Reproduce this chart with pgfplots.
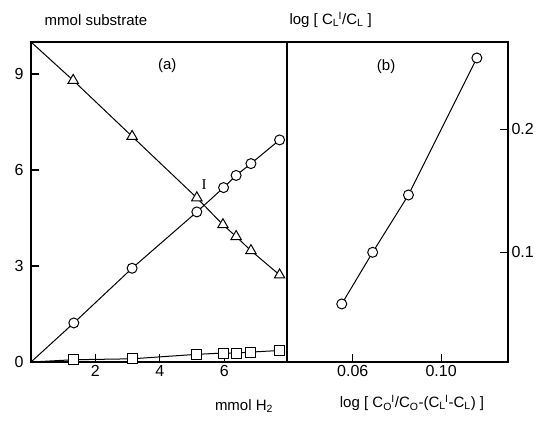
\documentclass[border=0pt]{standalone}
\usepackage{fontspec}
\setmainfont{Liberation Sans}
\newfontfamily\seriffont{Liberation Serif}
\usepackage{pgfplots}
\pgfplotsset{compat=1.18}
% subscript followed by superscript, as in C_L^I
\newcommand{\subsup}[2]{\textsubscript{#2}\kern-0.5pt\textsuperscript{#1}}

\begin{document}
\begin{tikzpicture}[x=1pt,y=1pt,font=\fontsize{15}{18}\selectfont]
\path[use as bounding box] (0,0) rectangle (540,420);
\pgfplotsset{
  every axis/.append style={
    scale only axis, anchor=south west,
    axis line style={line width=1.3pt},
    tick style={line width=1.1pt, black},
    major tick length=8pt, tick align=inside,
    /pgf/number format/assume math mode=true,
    tick label style={font=\fontsize{16}{19}\selectfont},
  },
  dat/.style={black, line width=1pt, mark size=#1, mark options={fill=white, solid, line width=1pt}},
}

% panel (a)
\begin{axis}[at={(31pt,58pt)}, width=256pt, height=320pt,
  xmin=0, xmax=7.95, ymin=0, ymax=10,
  xtick={2,4,6}, ytick={0,3,6,9},
  yticklabel style={xshift=-4pt},
  xtick pos=bottom, ytick pos=left, clip=false]
\addplot[dat=6pt, mark=triangle*, mark indices={2,...,8}] coordinates {
  (0,10) (1.31,8.80) (3.14,7.05) (5.15,5.13) (5.96,4.29) (6.37,3.92) (6.83,3.48) (7.72,2.72)
};
\addplot[dat=5pt, mark=*, mark indices={2,...,8}] coordinates {
  (0,0) (1.33,1.22) (3.14,2.93) (5.15,4.69) (5.98,5.45) (6.37,5.83) (6.83,6.20) (7.72,6.94)
};
\addplot[dat=5pt, mark=square*, mark indices={2,...,8}] coordinates {
  (0,0) (1.31,0.07) (3.14,0.10) (5.15,0.24) (5.98,0.28) (6.37,0.28) (6.83,0.31) (7.72,0.36)
};
\node at (axis cs:4.23,9.26) {(a)};
\node[font=\seriffont\fontsize{15}{18}\selectfont] at (axis cs:5.38,5.55) {I};
\end{axis}

% panel (b)
\begin{axis}[at={(287pt,58pt)}, width=221pt, height=320pt,
  xmin=0.0302, xmax=0.1303, ymin=0.0108, ymax=0.271,
  xtick={0.06,0.10}, xticklabels={0.06,0.10},
  ytick={0.1,0.2}, yticklabels={0.1,0.2},
  xtick pos=bottom, ytick pos=right]
\addplot[dat=5pt, mark=*] coordinates {
  (0.0550,0.058) (0.0690,0.100) (0.0852,0.1466) (0.1162,0.258)
};
\node at (axis cs:0.0751,0.2507) {(b)};
\end{axis}

\node at (96,400) {mmol substrate};
\node[anchor=west] at (286,400) {log [ C\subsup{I}{L}/C\textsubscript{L} ]};
\node at (244,14) {mmol H\textsubscript{2}};
\node at (412,17) {log [ C\subsup{I}{O}/C\textsubscript{O}-(C\subsup{I}{L}-C\textsubscript{L}) ]};
\end{tikzpicture}
\end{document}
